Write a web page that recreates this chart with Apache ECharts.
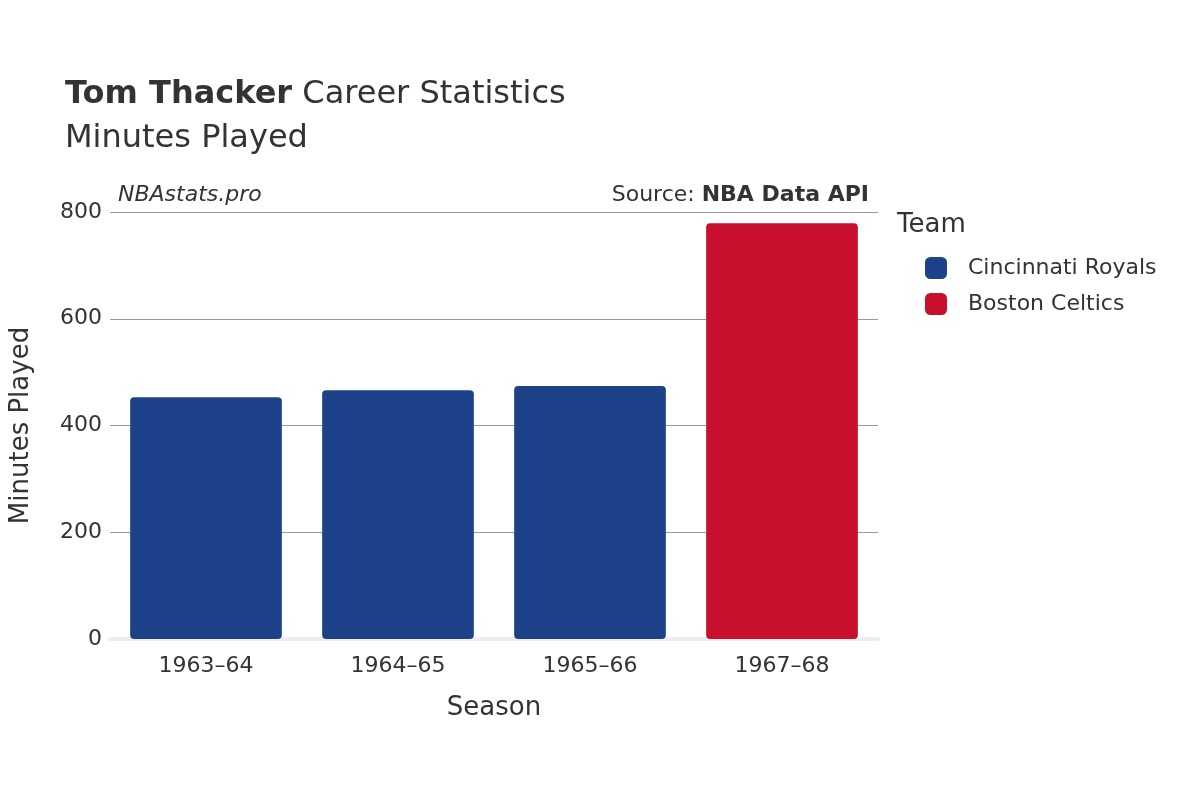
<!DOCTYPE html>
<html>
<head>
<meta charset="utf-8">
<script src="https://cdn.jsdelivr.net/npm/echarts@6/dist/echarts.min.js"></script>
<style>html,body{margin:0;padding:0;background:#fff}#main{width:1200px;height:800px}</style>
</head>
<body>
<div id="main"></div>
<script>
(function () {
    'use strict';
    var seasons = ['1963–64', '1964–65', '1965–66', '1967–68'];
    var royals = [453, 466, 474, null];
    var celtics = [null, null, null, 779];
    var yTicks = [0, 200, 400, 600, 800];

    var myChart = echarts.init(document.getElementById('main'));
    var font = 'DejaVu Sans';

    var option = {
        textStyle: { fontFamily: font },
        title: [{
            text: '{b|Tom Thacker} Career Statistics\nMinutes Played',
            left: 60, top: 68,
            textStyle: {
                fontSize: 32, fontWeight: 'normal', color: '#333', lineHeight: 44,
                rich: { b: { fontSize: 32, fontWeight: 'bold', color: '#333' } }
            }
        }, {
            text: 'NBAstats.pro', left: 113, top: 179,
            textStyle: { fontSize: 22, fontStyle: 'italic', fontWeight: 'normal', color: '#333' }
        }, {
            text: 'Source: {b|NBA Data API}', right: 326, top: 179,
            textStyle: { fontSize: 22, fontWeight: 'normal', color: '#333',
                rich: { b: { fontSize: 22, fontWeight: 'bold', color: '#333' } } }
        }],
        legend: {
            orient: 'vertical', left: 920, top: 252, itemGap: 14,
            icon: 'roundRect', itemWidth: 22, itemHeight: 22,
            textStyle: { fontSize: 22, color: '#333', padding: [0, 0, 0, 16] },
            data: ['Cincinnati Royals', 'Boston Celtics']
        },
        graphic: [{
            type: 'text', left: 897, top: 212,
            style: { text: 'Team', fontSize: 26, fill: '#333', fontFamily: font }
        }],
        grid: { left: 108, right: 322, top: 212, bottom: 161 },
        xAxis: {
            type: 'category', data: seasons,
            name: 'Season', nameLocation: 'middle', nameGap: 56,
            nameTextStyle: { fontSize: 26, color: '#333' },
            axisLine: { show: true, lineStyle: { color: '#eee', width: 4 } },
            axisTick: { show: false },
            axisLabel: { fontSize: 22, color: '#333', margin: 16 }
        },
        yAxis: {
            type: 'value', min: 0, max: 800, interval: 200,
            name: 'Minutes Played', nameLocation: 'middle', nameGap: 76,
            nameTextStyle: { fontSize: 26, color: '#333' },
            axisLabel: { fontSize: 22, color: '#333', margin: 8,
                formatter: function (v) { return yTicks.indexOf(v) >= 0 ? String(v) : ''; } },
            splitLine: { lineStyle: { color: '#999', width: 1 } }
        },
        series: [{
            name: 'Cincinnati Royals', type: 'bar', stack: 'all', data: royals,
            barWidth: '79%', itemStyle: { color: '#1D428A', borderRadius: 4 }
        }, {
            name: 'Boston Celtics', type: 'bar', stack: 'all', data: celtics,
            barWidth: '79%', itemStyle: { color: '#C8102E', borderRadius: 4 }
        }]
    };

    myChart.setOption(option);
    window.addEventListener('resize', function () {
        myChart.resize();
    });
})();
</script>
</body>
</html>
